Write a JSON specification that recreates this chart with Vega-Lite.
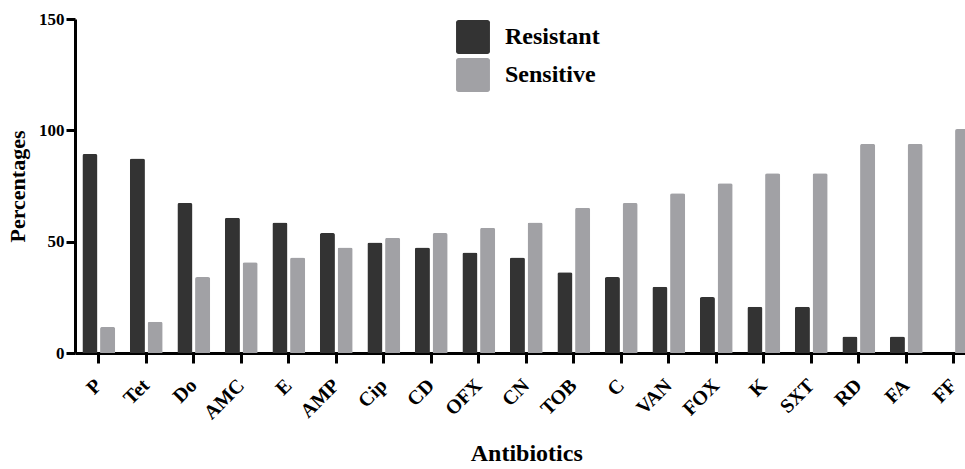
{
  "$schema": "https://vega.github.io/schema/vega-lite/v6.json",
  "width": 902.5,
  "height": 334,
  "autosize": {"type": "none"},
  "padding": {"left": 75, "top": 19, "right": 10, "bottom": 116},
  "background": "white",
  "data": {
    "values": [
      {"antibiotic": "P", "status": "Resistant", "pct": 89.4},
      {"antibiotic": "P", "status": "Sensitive", "pct": 11.7},
      {"antibiotic": "Tet", "status": "Resistant", "pct": 87.3},
      {"antibiotic": "Tet", "status": "Sensitive", "pct": 14.0},
      {"antibiotic": "Do", "status": "Resistant", "pct": 67.4},
      {"antibiotic": "Do", "status": "Sensitive", "pct": 34.1},
      {"antibiotic": "AMC", "status": "Resistant", "pct": 60.7},
      {"antibiotic": "AMC", "status": "Sensitive", "pct": 40.8},
      {"antibiotic": "E", "status": "Resistant", "pct": 58.6},
      {"antibiotic": "E", "status": "Sensitive", "pct": 42.9},
      {"antibiotic": "AMP", "status": "Resistant", "pct": 53.9},
      {"antibiotic": "AMP", "status": "Sensitive", "pct": 47.4},
      {"antibiotic": "Cip", "status": "Resistant", "pct": 49.6},
      {"antibiotic": "Cip", "status": "Sensitive", "pct": 51.8},
      {"antibiotic": "CD", "status": "Resistant", "pct": 47.4},
      {"antibiotic": "CD", "status": "Sensitive", "pct": 53.9},
      {"antibiotic": "OFX", "status": "Resistant", "pct": 45.1},
      {"antibiotic": "OFX", "status": "Sensitive", "pct": 56.2},
      {"antibiotic": "CN", "status": "Resistant", "pct": 42.9},
      {"antibiotic": "CN", "status": "Sensitive", "pct": 58.6},
      {"antibiotic": "TOB", "status": "Resistant", "pct": 36.3},
      {"antibiotic": "TOB", "status": "Sensitive", "pct": 65.2},
      {"antibiotic": "C", "status": "Resistant", "pct": 34.1},
      {"antibiotic": "C", "status": "Sensitive", "pct": 67.4},
      {"antibiotic": "VAN", "status": "Resistant", "pct": 29.7},
      {"antibiotic": "VAN", "status": "Sensitive", "pct": 71.7},
      {"antibiotic": "FOX", "status": "Resistant", "pct": 25.1},
      {"antibiotic": "FOX", "status": "Sensitive", "pct": 76.2},
      {"antibiotic": "K", "status": "Resistant", "pct": 20.8},
      {"antibiotic": "K", "status": "Sensitive", "pct": 80.7},
      {"antibiotic": "SXT", "status": "Resistant", "pct": 20.8},
      {"antibiotic": "SXT", "status": "Sensitive", "pct": 80.7},
      {"antibiotic": "RD", "status": "Resistant", "pct": 7.4},
      {"antibiotic": "RD", "status": "Sensitive", "pct": 93.9},
      {"antibiotic": "FA", "status": "Resistant", "pct": 7.4},
      {"antibiotic": "FA", "status": "Sensitive", "pct": 93.9},
      {"antibiotic": "FF", "status": "Resistant", "pct": 0},
      {"antibiotic": "FF", "status": "Sensitive", "pct": 100.6}
    ]
  },
  "mark": {"type": "bar", "cornerRadiusTopLeft": 2, "cornerRadiusTopRight": 2},
  "encoding": {
    "x": {
      "field": "antibiotic",
      "type": "nominal",
      "sort": null,
      "scale": {"paddingInner": 0.31, "paddingOuter": 0.155},
      "axis": {
        "title": "Antibiotics",
        "titleFont": "Liberation Serif",
        "titleFontSize": 24,
        "titleFontWeight": "bold",
        "titleColor": "black",
        "titlePadding": 19,
        "labelAngle": -45,
        "labelBaseline": "middle",
        "labelFont": "Liberation Serif",
        "labelFontSize": 20,
        "labelFontWeight": "bold",
        "labelColor": "black",
        "labelPadding": 19,
        "domainColor": "black",
        "domainWidth": 3,
        "tickColor": "black",
        "tickWidth": 3,
        "tickSize": 10,
        "grid": false
      }
    },
    "xOffset": {
      "field": "status",
      "type": "nominal",
      "scale": {"paddingInner": 0.15, "paddingOuter": 0}
    },
    "y": {
      "field": "pct",
      "type": "quantitative",
      "scale": {"domain": [0, 150], "nice": false},
      "axis": {
        "title": "Percentages",
        "titleFont": "Liberation Serif",
        "titleFontSize": 22,
        "titleFontWeight": "bold",
        "titleColor": "black",
        "titlePadding": 9,
        "values": [0, 50, 100, 150],
        "labelFont": "Liberation Serif",
        "labelFontSize": 17,
        "labelFontWeight": "bold",
        "labelColor": "black",
        "labelPadding": 2,
        "domainColor": "black",
        "domainWidth": 3,
        "tickColor": "black",
        "tickWidth": 3,
        "tickSize": 9,
        "grid": false
      }
    },
    "color": {
      "field": "status",
      "type": "nominal",
      "scale": {"domain": ["Resistant", "Sensitive"], "range": ["#333333", "#a1a1a5"]},
      "legend": {
        "title": null,
        "orient": "none",
        "legendX": 381,
        "legendY": 1,
        "padding": 0,
        "symbolType": "M-0.85,-1H0.85A0.15,0.15,0,0,1,1,-0.85V0.85A0.15,0.15,0,0,1,0.85,1H-0.85A0.15,0.15,0,0,1,-1,0.85V-0.85A0.15,0.15,0,0,1,-0.85,-1Z",
        "symbolSize": 1150,
        "symbolStrokeWidth": 0,
        "symbolOpacity": 1,
        "labelFont": "Liberation Serif",
        "labelFontSize": 24,
        "labelFontWeight": "bold",
        "labelColor": "black",
        "labelOffset": 15,
        "rowPadding": 4
      }
    }
  },
  "config": {"view": {"stroke": null}}
}
